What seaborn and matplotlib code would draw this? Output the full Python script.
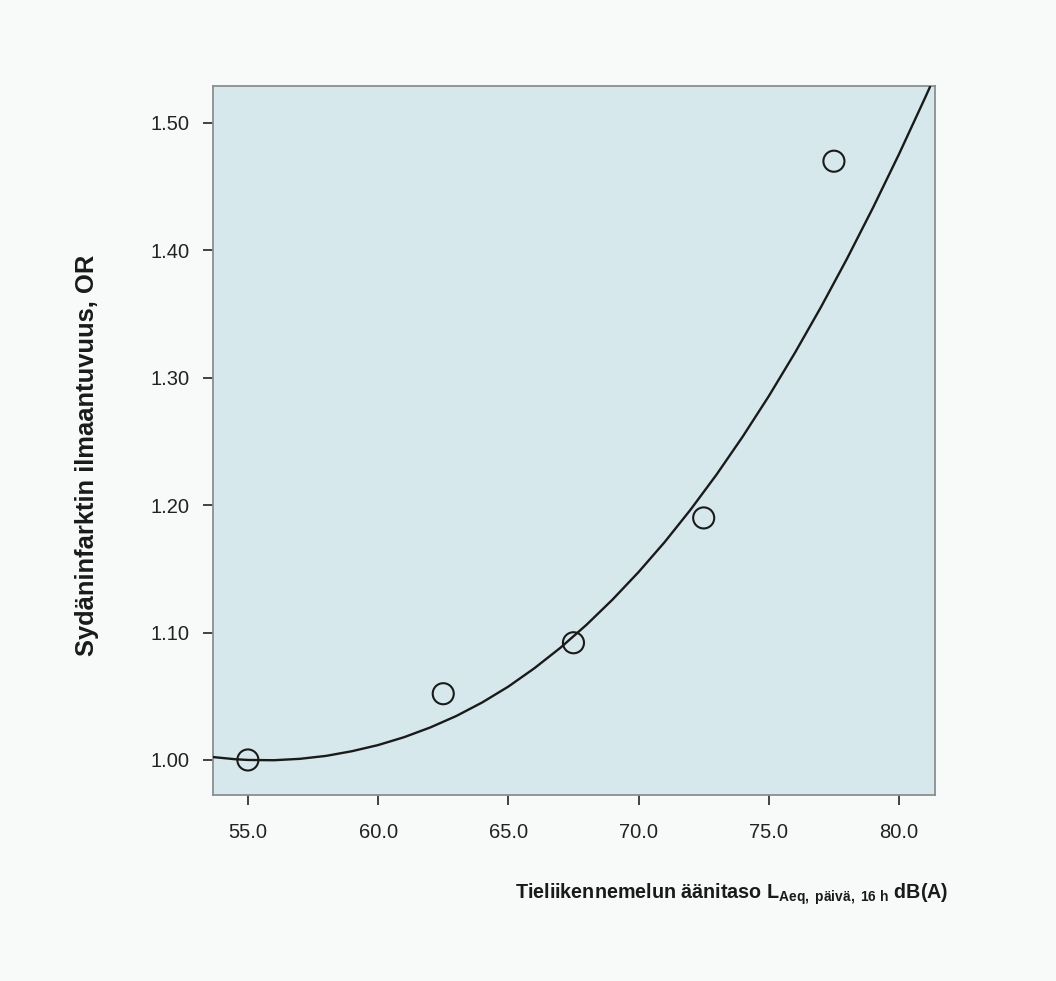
import matplotlib
matplotlib.use("Agg")
import matplotlib.pyplot as plt
from matplotlib.ticker import FixedLocator, FixedFormatter
import seaborn as sns
import pandas as pd

# Observed odds ratios (circles)
noise_levels = [55.0, 62.5, 67.5, 72.5, 77.5]
odds_ratios = [1.000, 1.052, 1.092, 1.190, 1.470]

# Fitted curve
curve_x = [53.66, 54.0, 54.5, 55.0, 56.0, 57.0, 58.0, 59.0, 60.0, 61.0,
           62.0, 63.0, 64.0, 65.0, 66.0, 67.0, 68.0, 69.0, 70.0, 71.0,
           72.0, 73.0, 74.0, 75.0, 76.0, 77.0, 78.0, 79.0, 80.0, 81.0, 81.19]
curve_y = [1.0023, 1.0016, 1.0006, 1.0000, 0.9998, 1.0009, 1.0032, 1.0069, 1.0117, 1.0179,
           1.0255, 1.0345, 1.0452, 1.0576, 1.0720, 1.0881, 1.1061, 1.1259, 1.1475, 1.1710,
           1.1966, 1.2242, 1.2539, 1.2856, 1.3195, 1.3554, 1.3934, 1.4335, 1.4756, 1.5198, 1.5284]

x_ticks = [55.0, 60.0, 65.0, 70.0, 75.0, 80.0]
y_ticks = [1.00, 1.10, 1.20, 1.30, 1.40, 1.50]
x_tick_labels = ["55.0", "60.0", "65.0", "70.0", "75.0", "80.0"]
y_tick_labels = ["1.00", "1.10", "1.20", "1.30", "1.40", "1.50"]

ylabel = "Sydäninfarktin ilmaantuvuus, OR"
xlabel = r"Tieliikennemelun äänitaso L$_{\mathbf{Aeq,\ päivä,\ 16\ h}}$ dB(A)"

sns.set_theme(style="white")
plt.rcParams["font.family"] = ["Liberation Sans", "DejaVu Sans"]
plt.rcParams["mathtext.fontset"] = "custom"
plt.rcParams["mathtext.rm"] = "Liberation Sans"
plt.rcParams["mathtext.bf"] = "Liberation Sans:bold"
plt.rcParams["mathtext.it"] = "Liberation Sans:italic"

fig = plt.figure(figsize=(10.56, 9.81), dpi=100, facecolor="#f8f9f9")
ax = fig.add_axes([0.2017, 0.1896, 0.6837, 0.7227])
ax.set_facecolor("#d6e8ec")

curve_df = pd.DataFrame({"x": curve_x, "y": curve_y})
pts_df = pd.DataFrame({"x": noise_levels, "y": odds_ratios})

sns.lineplot(data=curve_df, x="x", y="y", ax=ax, color="#1a1a1a", linewidth=1.7, zorder=3)
sns.scatterplot(data=pts_df, x="x", y="y", ax=ax, marker="o", s=230,
                facecolor="none", edgecolor="#1a1a1a", linewidth=1.5, zorder=4)

ax.set_xlim(53.66, 81.38)
ax.set_ylim(0.9725, 1.529)
ax.xaxis.set_major_locator(FixedLocator(x_ticks))
ax.xaxis.set_major_formatter(FixedFormatter(x_tick_labels))
ax.yaxis.set_major_locator(FixedLocator(y_ticks))
ax.yaxis.set_major_formatter(FixedFormatter(y_tick_labels))
ax.tick_params(axis="both", which="major", direction="out", length=7, width=1.3,
               color="#333333", labelsize=14.5, labelcolor="#222222",
               bottom=True, left=True)
ax.tick_params(axis="x", pad=13)
ax.tick_params(axis="y", pad=10)
for s in ax.spines.values():
    s.set_color("#8a8f90")
    s.set_linewidth(1.3)

ax.set_xlabel("")
ax.set_ylabel("")
fig.text(0.082, 0.536, ylabel, rotation=90, ha="center", va="center",
         fontsize=18.4, fontweight="bold", color="#1a1a1a")
fig.text(0.898, 0.084, xlabel, ha="right", va="baseline",
         fontsize=14.2, fontweight="bold", color="#1a1a1a")

fig.savefig("out.png", dpi=100, facecolor=fig.get_facecolor())
